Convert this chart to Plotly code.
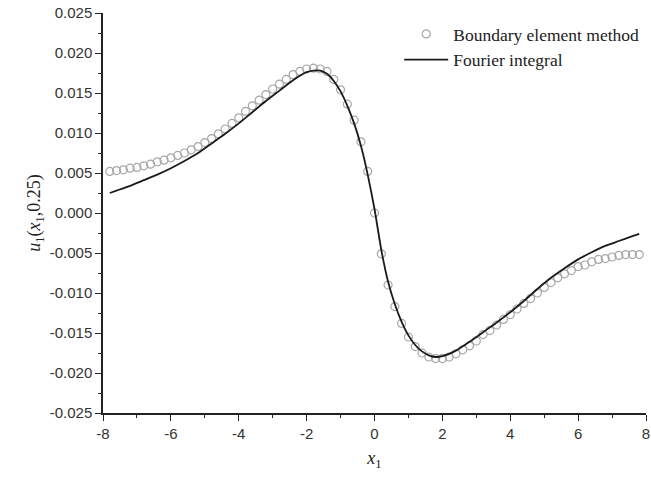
import plotly.graph_objects as go

# Boundary element method samples
bem_x = [round(-7.8 + 0.2 * i, 1) for i in range(79)]
bem_u = [
    0.0052, 0.0053, 0.0054, 0.0056, 0.0057, 0.0059, 0.0061, 0.0064, 0.0066, 0.0069,
    0.0072, 0.0075, 0.0079, 0.0083, 0.0088, 0.0093, 0.0099, 0.0105, 0.0112, 0.0119,
    0.0127, 0.0134, 0.0141, 0.0148, 0.0155, 0.0161, 0.0167, 0.0173, 0.0177, 0.0180,
    0.0181, 0.0180, 0.0177, 0.0167, 0.0154, 0.0136, 0.0116, 0.0089, 0.0052, 0.0000,
    -0.0051, -0.0090, -0.0117, -0.0138, -0.0155, -0.0167, -0.0175, -0.0180, -0.0182, -0.0182,
    -0.0180, -0.0176, -0.0171, -0.0166, -0.0160, -0.0152, -0.0147, -0.0140, -0.0133, -0.0127,
    -0.0120, -0.0113, -0.0107, -0.0100, -0.0093, -0.0087, -0.0081, -0.0076, -0.0072, -0.0067,
    -0.0065, -0.0061, -0.0058, -0.0057, -0.0055, -0.0053, -0.0052, -0.0052, -0.0052,
]

# Fourier integral curve
fi_x = [-7.8, -7.6, -7.2, -6.8, -6.4, -6.0, -5.6, -5.2, -4.8, -4.4, -4.0, -3.6, -3.2,
        -2.8, -2.4, -2.0, -1.8, -1.6, -1.4, -1.2, -1.0, -0.8, -0.6, -0.4, -0.2, 0.0,
        0.2, 0.4, 0.6, 0.8, 1.0, 1.2, 1.4, 1.6, 1.8, 2.0, 2.4, 2.8, 3.2, 3.6, 4.0,
        4.4, 4.8, 5.2, 5.6, 6.0, 6.4, 6.8, 7.2, 7.6, 7.8]
fi_u = [0.0025, 0.0028, 0.0034, 0.0041, 0.0048, 0.0056, 0.0065, 0.0075, 0.0087, 0.0099,
        0.0112, 0.0126, 0.0140, 0.0153, 0.0166, 0.0176, 0.0178, 0.0178, 0.0174, 0.0165,
        0.0152, 0.0134, 0.0112, 0.0084, 0.0048, 0.0005,
        -0.0046, -0.0086, -0.0114, -0.0136, -0.0153, -0.0165, -0.0173, -0.0178, -0.0180,
        -0.0179, -0.0172, -0.0161, -0.0149, -0.0137, -0.0124, -0.0110, -0.0095, -0.0081,
        -0.0069, -0.0058, -0.0049, -0.0041, -0.0035, -0.0029, -0.0026]

x_ticks = [-8, -6, -4, -2, 0, 2, 4, 6, 8]
y_ticks = [-0.025, -0.020, -0.015, -0.010, -0.005, 0.000, 0.005, 0.010, 0.015, 0.020, 0.025]

fig = go.Figure()
fig.add_trace(go.Scatter(
    x=bem_x, y=bem_u, mode="markers", name="Boundary element method",
    marker=dict(symbol="circle-open", size=8, color="#a8a8a8", line=dict(width=1.2, color="#a8a8a8")),
))
fig.add_trace(go.Scatter(
    x=fi_x, y=fi_u, mode="lines", name="Fourier integral",
    line=dict(color="#1a1a1a", width=1.8, shape="spline", smoothing=0.5),
))

axis_common = dict(
    showline=True, linecolor="#222", linewidth=1.5, mirror=False,
    ticks="outside", ticklen=6, tickwidth=1.3, tickcolor="#222",
    showgrid=False, zeroline=False, automargin=False,
    ticklabeloverflow="allow",
    tickfont=dict(family="Liberation Sans, Arial", size=15, color="#333"),
)

fig.update_layout(
    width=651, height=481,
    margin=dict(l=103, r=5, t=13, b=68, autoexpand=False),
    paper_bgcolor="white", plot_bgcolor="white",
    xaxis=dict(
        range=[-8, 8], tickvals=x_ticks, ticktext=[str(v) for v in x_ticks],
        minor=dict(ticks="outside", ticklen=3, tickwidth=1.2, tickcolor="#222", dtick=1, tick0=0),
        title=dict(text="<i>x</i><sub>1</sub>", font=dict(family="Liberation Serif, Times New Roman", size=18, color="#222"), standoff=11),
        **axis_common,
    ),
    yaxis=dict(
        range=[-0.025, 0.025], tickvals=y_ticks, ticktext=[f"{v:.3f}" for v in y_ticks],
        minor=dict(ticks="outside", ticklen=3, tickwidth=1.2, tickcolor="#222", dtick=0.0025, tick0=0),
        title=dict(text="<i>u</i><sub>1</sub>(<i>x</i><sub>1</sub>,0.25)", font=dict(family="Liberation Serif, Times New Roman", size=18, color="#222"), standoff=4),
        **axis_common,
    ),
    legend=dict(
        x=0.5455, y=0.9925, xanchor="left", yanchor="top",
        bgcolor="rgba(0,0,0,0)", borderwidth=0,
        font=dict(family="Liberation Serif, Times New Roman", size=17.5, color="#222"),
        itemwidth=44, tracegroupgap=0,
    ),
    showlegend=True,
)

fig.write_html("out.html", config={"displayModeBar": False},
               post_script="document.body.style.margin='0';")
